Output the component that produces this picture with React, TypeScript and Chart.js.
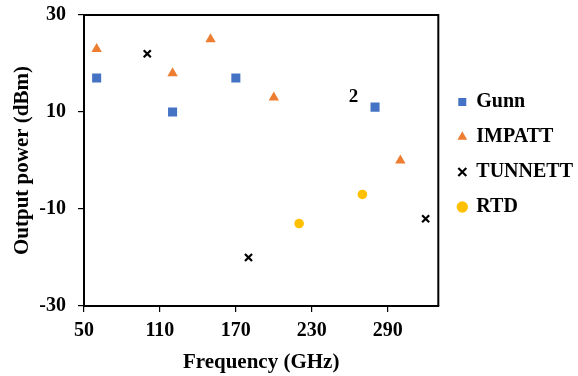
import React, { useEffect, useRef } from 'react';
import { Chart, registerables } from 'chart.js';

Chart.register(...registerables);

// ---- data ----
const seriesNames = ['Gunn', 'IMPATT', 'TUNNETT', 'RTD'];
const gunnFreq = [60, 120, 170, 280];
const gunnPower = [17, 10, 17, 11];
const impattFreq = [60, 120, 150, 200, 300];
const impattPower = [23, 18, 25, 13, 0];
const tunnettFreq = [100, 180, 320];
const tunnettPower = [22, -20, -12];
const rtdFreq = [220, 270];
const rtdPower = [-13, -7];
const xTicks = [50, 110, 170, 230, 290];
const yTicks = [-30, -10, 10, 30];
const noteLabels = [{ x: 263, y: 13, text: '2' }];

const FONT = "'Liberation Serif', 'Times New Roman', serif";

const toPoints = (xs: number[], ys: number[]) => xs.map((x, i) => ({ x, y: ys[i] }));

const framePlugin = {
  id: 'frameAndNotes',
  afterDraw(chart: any) {
    const { ctx, chartArea, scales } = chart;
    ctx.save();
    ctx.strokeStyle = '#000';
    ctx.lineWidth = 2;
    ctx.beginPath();
    ctx.moveTo(chartArea.left, chartArea.top);
    ctx.lineTo(chartArea.right, chartArea.top);
    ctx.lineTo(chartArea.right, chartArea.bottom);
    ctx.stroke();
    ctx.fillStyle = '#000';
    ctx.font = `bold 19px ${FONT}`;
    ctx.textAlign = 'center';
    ctx.textBaseline = 'middle';
    noteLabels.forEach((n) => {
      ctx.fillText(n.text, scales.x.getPixelForValue(n.x), scales.y.getPixelForValue(n.y));
    });
    ctx.restore();
  },
};

const legendShift = {
  id: 'legendShift',
  afterLayout(chart: any) {
    const l = chart.legend;
    if (l) {
      l.left += 5;
      l.right += 5;
      l.top -= 6;
      l.bottom -= 6;
    }
  },
};

export default function App() {
  const ref = useRef<HTMLCanvasElement>(null);

  useEffect(() => {
    document.body.style.margin = '0';
    const canvas = ref.current;
    if (!canvas) return;
    const chart = new Chart(canvas, {
      type: 'scatter',
      data: {
        datasets: [
          {
            label: seriesNames[0],
            data: toPoints(gunnFreq, gunnPower),
            pointStyle: 'rect',
            pointRadius: 6.4,
            backgroundColor: '#4472C4',
            borderColor: '#4472C4',
            borderWidth: 0,
          },
          {
            label: seriesNames[1],
            data: toPoints(impattFreq, impattPower),
            pointStyle: 'triangle',
            pointRadius: 6,
            backgroundColor: '#ED7D31',
            borderColor: '#ED7D31',
            borderWidth: 0,
          },
          {
            label: seriesNames[2],
            data: toPoints(tunnettFreq, tunnettPower),
            pointStyle: 'crossRot',
            pointRadius: 5,
            backgroundColor: '#000',
            borderColor: '#000',
            borderWidth: 2.2,
          },
          {
            label: seriesNames[3],
            data: toPoints(rtdFreq, rtdPower),
            pointStyle: 'circle',
            pointRadius: 4.8,
            backgroundColor: '#FFC000',
            borderColor: '#FFC000',
            borderWidth: 0,
          },
        ],
      },
      options: {
        responsive: false,
        animation: false,
        devicePixelRatio: 1,
        layout: { padding: { top: 15, left: 0, right: 0, bottom: 0 } },
        plugins: {
          tooltip: { enabled: false },
          legend: {
            position: 'right',
            fullSize: false,
            maxWidth: 140,
            labels: {
              usePointStyle: true,
              boxWidth: 8,
              boxHeight: 8,
              padding: 15,
              color: '#000',
              font: { family: FONT, size: 20, weight: 'bold' },
            },
          },
        },
        scales: {
          x: {
            type: 'linear',
            min: 50,
            max: 330,
            afterBuildTicks: (s: any) => {
              s.ticks = xTicks.map((v) => ({ value: v }));
            },
            afterFit: (s: any) => {
              s.height = 70;
              s.paddingLeft = 0;
              s.paddingRight = 0;
            },
            ticks: {
              color: '#000',
              padding: 7,
              font: { family: FONT, size: 20, weight: 'bold' },
            },
            grid: {
              drawOnChartArea: false,
              drawTicks: true,
              tickLength: 6,
              color: '#000',
              lineWidth: 1.2,
            },
            border: { display: true, color: '#000', width: 2 },
            title: {
              display: true,
              text: 'Frequency (GHz)',
              color: '#000',
              padding: { top: 0, bottom: 1 },
              font: { family: FONT, size: 21, weight: 'bold' },
            },
          },
          y: {
            type: 'linear',
            min: -30,
            max: 30,
            afterBuildTicks: (s: any) => {
              s.ticks = yTicks.map((v) => ({ value: v }));
            },
            afterFit: (s: any) => {
              s.width = 84;
              s.paddingTop = 0;
              s.paddingBottom = 0;
            },
            ticks: {
              color: '#000',
              padding: 12,
              font: { family: FONT, size: 20, weight: 'bold' },
            },
            grid: {
              drawOnChartArea: false,
              drawTicks: true,
              tickLength: 6,
              color: '#000',
              lineWidth: 1.2,
            },
            border: { display: true, color: '#000', width: 2 },
            title: {
              display: true,
              text: 'Output power (dBm)',
              color: '#000',
              padding: { top: 10, bottom: 0 },
              font: { family: FONT, size: 21, weight: 'bold' },
            },
          },
        },
      },
      plugins: [framePlugin, legendShift],
    } as any);
    return () => chart.destroy();
  }, []);

  return (
    <div style={{ width: 578, height: 376 }}>
      <canvas ref={ref} width={578} height={376} />
    </div>
  );
}
